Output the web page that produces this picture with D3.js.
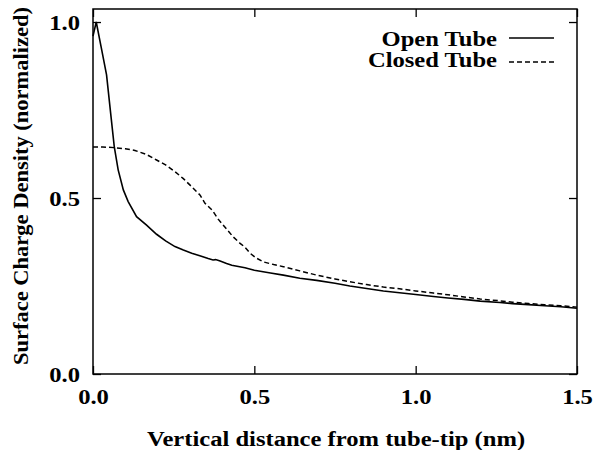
<!DOCTYPE html>
<html>
<head>
<meta charset="utf-8">
<script src="https://cdn.jsdelivr.net/npm/d3@7"></script>
<style>
  html, body { margin: 0; padding: 0; background: #fff; }
  svg { display: block; }
  text { font-family: "Liberation Serif", "Times New Roman", serif; font-weight: bold; fill: #000; }
</style>
</head>
<body>
<svg id="chart" width="593" height="450"></svg>
<script>
// ---- data ----
const openX = [0, 0.01, 0.025, 0.042, 0.056, 0.066, 0.078, 0.094, 0.109, 0.135, 0.166, 0.197, 0.225, 0.254, 0.28, 0.306, 0.331, 0.357, 0.372, 0.38, 0.394, 0.414, 0.43, 0.471, 0.5, 0.55, 0.59, 0.641, 0.693, 0.75, 0.796, 0.848, 0.9, 0.95, 1.0, 1.055, 1.1, 1.15, 1.2, 1.261, 1.3, 1.35, 1.4, 1.45, 1.5];
const openY = [0.96, 1.0, 0.93, 0.85, 0.73, 0.645, 0.58, 0.523, 0.49, 0.447, 0.423, 0.397, 0.378, 0.362, 0.352, 0.343, 0.336, 0.328, 0.324, 0.325, 0.321, 0.314, 0.309, 0.302, 0.295, 0.287, 0.281, 0.272, 0.266, 0.258, 0.250, 0.243, 0.236, 0.231, 0.226, 0.220, 0.216, 0.212, 0.207, 0.203, 0.200, 0.197, 0.194, 0.191, 0.187];
const closedX = [0, 0.03, 0.068, 0.1, 0.13, 0.165, 0.197, 0.225, 0.254, 0.28, 0.306, 0.332, 0.347, 0.37, 0.388, 0.41, 0.434, 0.455, 0.471, 0.487, 0.505, 0.53, 0.56, 0.59, 0.641, 0.693, 0.75, 0.796, 0.848, 0.9, 0.95, 1.0, 1.055, 1.1, 1.15, 1.2, 1.261, 1.3, 1.35, 1.4, 1.45, 1.5];
const closedY = [0.645, 0.645, 0.643, 0.64, 0.635, 0.624, 0.608, 0.594, 0.575, 0.555, 0.532, 0.508, 0.485, 0.465, 0.44, 0.416, 0.39, 0.372, 0.36, 0.343, 0.33, 0.318, 0.311, 0.305, 0.293, 0.281, 0.27, 0.262, 0.254, 0.247, 0.242, 0.236, 0.23, 0.225, 0.219, 0.213, 0.208, 0.204, 0.2, 0.197, 0.194, 0.19];
const xTicks = [0, 0.5, 1.0, 1.5];
const yTicks = [0, 0.5, 1.0];
const seriesNames = ["Open Tube", "Closed Tube"];
const xTitle = "Vertical distance from tube-tip (nm)";
const yTitle = "Surface Charge Density (normalized)";

// ---- layout ----
const L = 93, R = 577, T = 9, B = 374;
const SX = 1.2; // horizontal stretch of text in the reference
const svg = d3.select("#chart");
const x = d3.scaleLinear().domain([0, 1.5]).range([L, R]);
const y = d3.scaleLinear().domain([0, 1.037]).range([B, T]);
const fmt = d3.format(".1f");

// frame
svg.append("rect").attr("x", L).attr("y", T).attr("width", R - L).attr("height", B - T)
  .attr("fill", "none").attr("stroke", "#000").attr("stroke-width", 1.5);

// axes with inward ticks
const tk = 8;
const ax = [
  svg.append("g").attr("transform", `translate(0,${B})`).call(d3.axisBottom(x).tickValues(xTicks).tickSizeInner(-tk).tickSizeOuter(0).tickFormat(fmt)),
  svg.append("g").attr("transform", `translate(0,${T})`).call(d3.axisTop(x).tickValues(xTicks).tickSizeInner(-tk).tickSizeOuter(0).tickFormat("")),
  svg.append("g").attr("transform", `translate(${L},0)`).call(d3.axisLeft(y).tickValues(yTicks).tickSizeInner(-tk).tickSizeOuter(0).tickFormat(fmt)),
  svg.append("g").attr("transform", `translate(${R},0)`).call(d3.axisRight(y).tickValues(yTicks).tickSizeInner(-tk).tickSizeOuter(0).tickFormat(""))
];
ax.forEach(g => {
  g.select(".domain").remove();
  g.selectAll(".tick line").attr("stroke", "#000").attr("stroke-width", 1.3);
});
// bottom labels
ax[0].selectAll(".tick text")
  .attr("y", 0).attr("dy", 0)
  .attr("transform", `translate(0,30) scale(${SX},1)`)
  .style("font-size", "20.5px").attr("font-family", null);
// left labels
ax[2].selectAll(".tick text")
  .attr("x", 0).attr("dy", "0.35em")
  .attr("transform", `translate(-13,0) scale(${SX},1)`)
  .style("font-size", "20.5px").attr("font-family", null);

// lines
const line = d3.line().x(d => x(d[0])).y(d => y(d[1]));
const openData = openX.map((v, i) => [v, openY[i]]);
const closedData = closedX.map((v, i) => [v, closedY[i]]);
svg.append("path").datum(closedData).attr("d", line)
  .attr("fill", "none").attr("stroke", "#000").attr("stroke-width", 1.5).attr("stroke-dasharray", "5,3");
svg.append("path").datum(openData).attr("d", line)
  .attr("fill", "none").attr("stroke", "#000").attr("stroke-width", 1.6);

// legend
const leg = [
  { name: seriesNames[0], ty: 46, ly: 38, dash: null },
  { name: seriesNames[1], ty: 67, ly: 62, dash: "5,3" }
];
leg.forEach(d => {
  svg.append("text").attr("text-anchor", "end")
    .attr("transform", `translate(497,${d.ty}) scale(${SX},1)`)
    .style("font-size", "20.5px").text(d.name);
  svg.append("line").attr("x1", 509).attr("x2", 554).attr("y1", d.ly).attr("y2", d.ly)
    .attr("stroke", "#000").attr("stroke-width", 1.3).attr("stroke-dasharray", d.dash);
});

// axis titles
svg.append("text").attr("text-anchor", "middle")
  .attr("transform", `translate(336,446) scale(${SX},1)`)
  .style("font-size", "20.5px").text(xTitle);
svg.append("text").attr("text-anchor", "middle")
  .attr("transform", `translate(28,186) rotate(-90)`)
  .attr("textLength", 358).attr("lengthAdjust", "spacingAndGlyphs")
  .style("font-size", "22px").text(yTitle);
</script>
</body>
</html>
